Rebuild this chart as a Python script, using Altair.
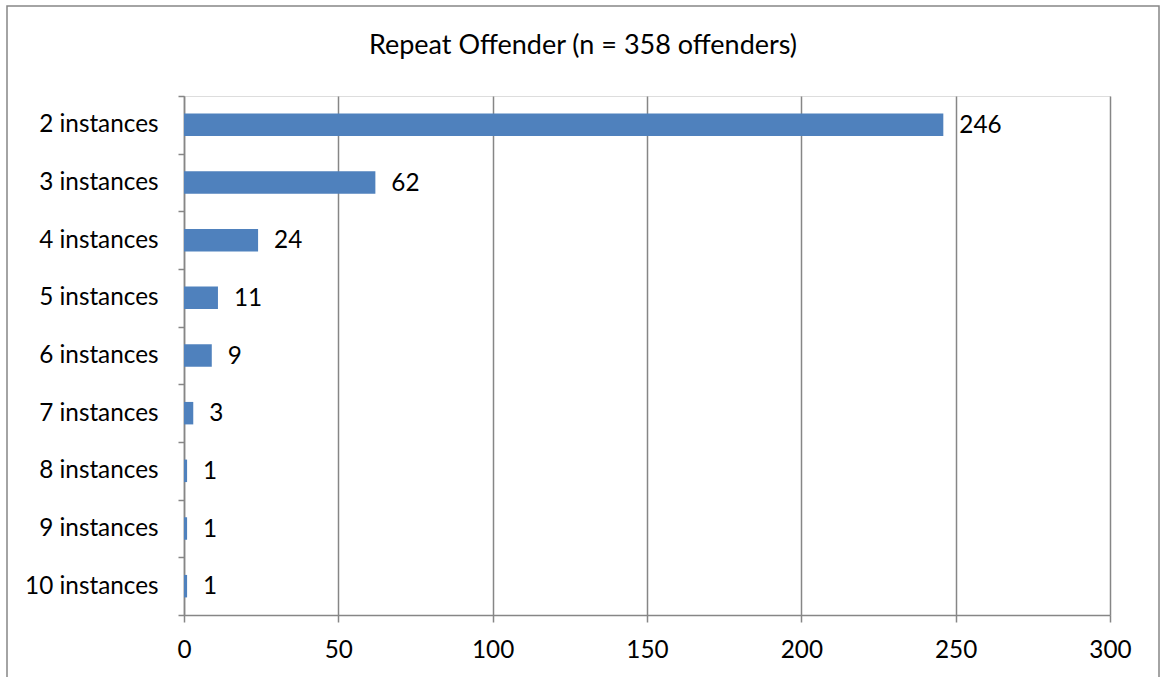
import altair as alt
import pandas as pd

categories = ["2 instances", "3 instances", "4 instances", "5 instances", "6 instances",
              "7 instances", "8 instances", "9 instances", "10 instances"]
counts = [246, 62, 24, 11, 9, 3, 1, 1, 1]
x_ticks = [0, 50, 100, 150, 200, 250, 300]
title_text = "Repeat Offender (n = 358 offenders)"

df = pd.DataFrame({"category": categories, "count": counts})

FONT = "Lato"
GRAY = "#868686"
LBL = 24.3

y_enc = alt.Y("category:N", sort=categories, title=None,
              scale=alt.Scale(paddingInner=0, paddingOuter=0),
              axis=alt.Axis(tickBand="extent", tickSize=6, tickColor=GRAY, tickWidth=1.5,
                            domainColor=GRAY, domainWidth=1.5, labelPadding=20,
                            labelFont=FONT, labelFontSize=LBL, labelColor="black",
                            grid=False))
x_enc = alt.X("count:Q", title=None,
              scale=alt.Scale(domain=[0, 300], nice=False),
              axis=alt.Axis(values=x_ticks, tickSize=7, tickColor=GRAY, tickWidth=1.5,
                            domainColor=GRAY, domainWidth=1.5, labelPadding=16,
                            labelFlush=False,
                            labelFont=FONT, labelFontSize=LBL, labelColor="black",
                            grid=True, gridColor=GRAY, gridWidth=1.5))

base = alt.Chart(df)
bars = base.mark_bar(color="#4F81BD", height={"band": 0.39}).encode(x=x_enc, y=y_enc)
labels = base.mark_text(align="left", baseline="middle", dx=16, dy=1, font=FONT,
                        fontSize=LBL, color="black").encode(
    x="count:Q", y=alt.Y("category:N", sort=categories), text="count:Q")

one = pd.DataFrame({"k": [0]})
border = alt.Chart(one).mark_rect(
    fillOpacity=0, stroke=GRAY, strokeWidth=1.5).encode(
    x=alt.value(-177), x2=alt.value(975), y=alt.value(-90), y2=alt.value(620))
title = alt.Chart(one).mark_text(
    align="center", baseline="alphabetic", font=FONT, fontSize=27, color="black").encode(
    x=alt.value(399), y=alt.value(-42), text=alt.value(title_text))

chart = alt.layer(border, title, bars, labels).properties(
    width=926, height=519,
    autosize=alt.AutoSizeParams(type="none"),
    padding={"left": 184, "top": 96, "right": 53, "bottom": 62},
).configure_view(stroke=None).configure(background="white")

chart.save("out.html", embed_options={"renderer": "svg", "actions": False})
